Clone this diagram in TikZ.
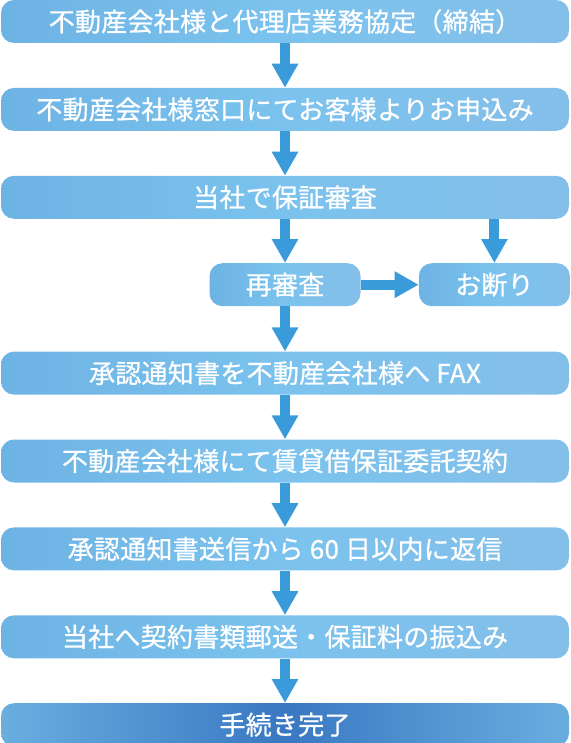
\documentclass[tikz,border=0pt]{standalone}
\usepackage{fontspec}
\usetikzlibrary{arrows.meta,positioning}
\newfontfamily\jpfont{Noto Sans CJK JP}[LetterSpace=1,FakeBold=0.8]
\definecolor{FlowSky}{HTML}{7BC3EE}
\definecolor{FlowSkyL}{HTML}{6DB3E4}
\definecolor{FlowSkyR}{HTML}{84BFE9}
\definecolor{FlowArrow}{HTML}{3A9BDB}
\definecolor{FlowDeep}{HTML}{3978C2}
\definecolor{FlowDeepL}{HTML}{6AAEE0}
\tikzset{
  stepbar/.style={rounded corners=13pt,left color=FlowSkyL,right color=FlowSkyR,
    middle color=FlowSky,text=white,minimum width=568pt,minimum height=43pt,
    inner sep=0pt,font=\jpfont\fontsize{26pt}{30pt}\selectfont},
  sidebox/.style={stepbar,minimum width=151pt},
  lastbar/.style={stepbar,left color=FlowDeepL,right color=FlowDeepL,middle color=FlowDeep},
  flowarrow/.style={draw=FlowArrow,line width=10pt,-{Triangle[width=25pt,length=24pt]}}
}

\begin{document}
\begin{tikzpicture}
  \useasboundingbox (0,0) rectangle (570pt,-743pt);
  % steps
  \node[stepbar] (b1) at (285pt,-21.5pt) {不動産会社様と代理店業務協定（締結）};
  \node[stepbar,below=44.5pt of b1] (b2) {不動産会社様窓口にてお客様よりお申込み};
  \node[stepbar,below=44.5pt of b2] (b3) {当社で保証審査};
  \node[sidebox,below=44pt of b3] (re) {再審査};
  \node[sidebox,right=58pt of re] (no) {お断り};
  \node[stepbar,below=45pt of re] (b4) {承認通知書を不動産会社様へ FAX};
  \node[stepbar,below=44.5pt of b4] (b5) {不動産会社様にて賃貸借保証委託契約};
  \node[stepbar,below=44.5pt of b5] (b6) {承認通知書送信から 60 日以内に返信};
  \node[stepbar,below=44.5pt of b6] (b7) {当社へ契約書類郵送・保証料の振込み};
  \node[lastbar,below=44.5pt of b7] (b8) {手続き完了};
  % arrows
  \draw[flowarrow] (b1) -- (b2);
  \draw[flowarrow] (b2) -- (b3);
  \draw[flowarrow] (b3.south -| re) -- (re);
  \draw[flowarrow] (b3.south -| no) -- (no);
  \draw[flowarrow] (re) -- (no);
  \draw[flowarrow] (re) -- (b4);
  \draw[flowarrow] (b4) -- (b5);
  \draw[flowarrow] (b5) -- (b6);
  \draw[flowarrow] (b6) -- (b7);
  \draw[flowarrow] (b7) -- (b8);
\end{tikzpicture}
\end{document}
